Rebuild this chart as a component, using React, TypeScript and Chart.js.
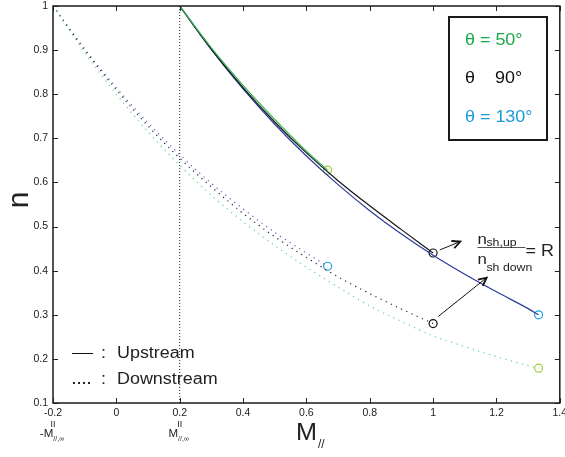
import React, { useEffect, useRef } from 'react';
import { Chart, registerables } from 'chart.js';

Chart.register(...registerables);

const FONT = "'Liberation Sans', Arial, Helvetica, sans-serif";

// axis ticks
const xTickValues = [-0.2, 0, 0.2, 0.4, 0.6, 0.8, 1, 1.2, 1.4];
const yTickValues = [0.1, 0.2, 0.3, 0.4, 0.5, 0.6, 0.7, 0.8, 0.9, 1];

// Upstream (solid) curves
const upMach50 = [0.2, 0.3, 0.4, 0.5, 0.6, 0.667];
const upN50 = [1, 0.905, 0.82, 0.743, 0.671, 0.628];
const upMach90 = [0.2, 0.3, 0.4, 0.5, 0.6, 0.7, 0.8, 0.9, 1.0];
const upN90 = [1, 0.902, 0.815, 0.737, 0.667, 0.604, 0.547, 0.493, 0.44];
const upMach130 = [0.2, 0.3, 0.4, 0.5, 0.6, 0.7, 0.8, 0.9, 1.0, 1.1, 1.2, 1.3, 1.333];
const upN130 = [1, 0.901, 0.812, 0.732, 0.66, 0.595, 0.536, 0.483, 0.435, 0.392, 0.352, 0.314, 0.3];

// Downstream (dotted) curves
const downMach50 = [-0.2, -0.1, 0, 0.1, 0.2, 0.3, 0.4, 0.5, 0.6, 0.7, 0.8, 0.9, 1.0, 1.1, 1.2, 1.3, 1.333];
const downN50 = [1, 0.894, 0.8, 0.715, 0.639, 0.571, 0.511, 0.457, 0.408, 0.363, 0.32, 0.285, 0.252, 0.228, 0.205, 0.185, 0.179];
const downMach90 = [-0.2, -0.1, 0, 0.1, 0.2, 0.3, 0.4, 0.5, 0.6, 0.7, 0.8, 0.9, 1.0];
const downN90 = [1, 0.9, 0.81, 0.728, 0.655, 0.59, 0.53, 0.477, 0.43, 0.386, 0.348, 0.313, 0.28];
const downMach130 = [-0.2, -0.1, 0, 0.1, 0.2, 0.3, 0.4, 0.5, 0.6, 0.667];
const downN130 = [1, 0.903, 0.815, 0.735, 0.663, 0.598, 0.54, 0.487, 0.44, 0.41];

// reference line M = M//,inf
const refLineMach = [0.2, 0.2];
const refLineN = [0.1, 1];

// annotation arrows (data coordinates: [M, n])
const arrowUpTail = [1.021, 0.447];
const arrowUpHead = [1.086, 0.466];
const arrowDownTail = [1.016, 0.296];
const arrowDownHead = [1.169, 0.384];
const fractionAnchor = [1.14, 0.453];

const legendLabels = ['θ = 50°', 'θ', '90°', 'θ = 130°'];

const C_GREEN = '#2fb24c';
const C_BLACK = '#151515';
const C_BLUE = '#2b3a9e';
const C_GREEN_DOT = '#5cd49a';
const C_BLUE_DOT = '#5b5bd0';
const C_GREEN_CIRCLE = '#a2cd3a';
const C_BLUE_CIRCLE = '#1ba0e2';
const C_GREEN_TEXT = '#1aa84a';
const C_BLUE_TEXT = '#1c9bd8';

const pts = (xs: number[], ys: number[]) => xs.map((x, i) => ({ x, y: ys[i] }));
const last = (xs: number[], ys: number[]) => [{ x: xs[xs.length - 1], y: ys[ys.length - 1] }];
const fmt = (v: number) => String(Number(Number(v).toFixed(1)));

const SX = 1.12;
function txt(ctx: CanvasRenderingContext2D, s: string, x: number, y: number, size: number, color: string, align: CanvasTextAlign = 'left', sx = SX) {
  ctx.save();
  ctx.font = `${size}px ${FONT}`;
  ctx.fillStyle = color;
  ctx.textBaseline = 'alphabetic';
  ctx.textAlign = align;
  ctx.translate(x, y);
  ctx.scale(sx, 1);
  ctx.fillText(s, 0, 0);
  ctx.restore();
}
function txtWidth(ctx: CanvasRenderingContext2D, s: string, size: number, sx = SX) {
  ctx.save();
  ctx.font = `${size}px ${FONT}`;
  const w = ctx.measureText(s).width * sx;
  ctx.restore();
  return w;
}
function line(ctx: CanvasRenderingContext2D, x1: number, y1: number, x2: number, y2: number) {
  ctx.beginPath();
  ctx.moveTo(x1, y1);
  ctx.lineTo(x2, y2);
  ctx.stroke();
}
function arrow(ctx: CanvasRenderingContext2D, x1: number, y1: number, x2: number, y2: number) {
  ctx.strokeStyle = '#111';
  ctx.lineWidth = 1;
  line(ctx, x1, y1, x2, y2);
  const a = Math.atan2(y2 - y1, x2 - x1);
  const L = 9;
  ctx.lineWidth = 1.8;
  ctx.beginPath();
  ctx.moveTo(x2 - L * Math.cos(a - 0.45), y2 - L * Math.sin(a - 0.45));
  ctx.lineTo(x2, y2);
  ctx.lineTo(x2 - L * Math.cos(a + 0.45), y2 - L * Math.sin(a + 0.45));
  ctx.stroke();
}

const annotPlugin = {
  id: 'annot',
  afterDatasetsDraw(chart: any) {
    const { ctx, chartArea, scales } = chart;
    const { left, right, top, bottom } = chartArea;
    const xs = scales.x;
    const ys = scales.y;
    ctx.save();

    // frame
    ctx.strokeStyle = '#1a1a1a';
    ctx.lineWidth = 1.5;
    ctx.strokeRect(left, top, right - left, bottom - top);

    // inward ticks on all sides
    ctx.lineWidth = 1;
    ctx.strokeStyle = '#222';
    xTickValues.forEach((v) => {
      const px = Math.round(xs.getPixelForValue(v)) + 0.5;
      line(ctx, px, bottom, px, bottom - 5);
      line(ctx, px, top, px, top + 5);
    });
    yTickValues.forEach((v) => {
      const py = Math.round(ys.getPixelForValue(v)) + 0.5;
      line(ctx, left, py, left + 5, py);
      line(ctx, right, py, right - 5, py);
    });

    // special tick sub-labels: -M//,inf and M//,inf
    [-0.2, 0.2].forEach((v) => {
      const px = xs.getPixelForValue(v);
      txt(ctx, 'II', px, 427, 9, '#222', 'center', 1);
      const main = v < 0 ? '-M' : 'M';
      const wMain = txtWidth(ctx, main, 11, 1.05);
      const wSub = txtWidth(ctx, '//,∞', 7, 1);
      const x0 = px - (wMain + wSub) / 2 - 1;
      txt(ctx, main, x0, 437, 11, '#222', 'left', 1.05);
      txt(ctx, '//,∞', x0 + wMain, 441, 7, '#222', 'left', 1);
    });

    // axis titles
    ctx.save();
    ctx.translate(28, 200);
    ctx.rotate(-Math.PI / 2);
    ctx.font = `30px ${FONT}`;
    ctx.fillStyle = '#222';
    ctx.textAlign = 'center';
    ctx.textBaseline = 'alphabetic';
    ctx.fillText('n', 0, 0);
    ctx.restore();
    txt(ctx, 'M', 296, 440, 24, '#222', 'left', 1.05);
    txt(ctx, '//', 318, 448, 12, '#222', 'left', 1);

    // legend box (top right)
    ctx.strokeStyle = '#1a1a1a';
    ctx.lineWidth = 2;
    ctx.strokeRect(449, 17, 98, 123);
    txt(ctx, legendLabels[0], 465, 45, 16, C_GREEN_TEXT);
    txt(ctx, legendLabels[1], 465, 83, 16, '#111');
    txt(ctx, legendLabels[2], 495, 83, 16, '#111');
    txt(ctx, legendLabels[3], 465, 122, 16, C_BLUE_TEXT);

    // line-style legend (bottom left)
    ctx.strokeStyle = '#111';
    ctx.lineWidth = 1;
    line(ctx, 72, 353.5, 93, 353.5);
    txt(ctx, ':', 101, 358, 16, '#222');
    txt(ctx, 'Upstream', 117, 358, 16, '#222');
    ctx.fillStyle = '#222';
    [73, 78, 83, 88].forEach((dx) => ctx.fillRect(dx, 382, 2, 2));
    txt(ctx, ':', 101, 384, 16, '#222');
    txt(ctx, 'Downstream', 117, 384, 16, '#222');

    // arrows
    arrow(ctx, xs.getPixelForValue(arrowUpTail[0]), ys.getPixelForValue(arrowUpTail[1]),
      xs.getPixelForValue(arrowUpHead[0]), ys.getPixelForValue(arrowUpHead[1]));
    arrow(ctx, xs.getPixelForValue(arrowDownTail[0]), ys.getPixelForValue(arrowDownTail[1]),
      xs.getPixelForValue(arrowDownHead[0]), ys.getPixelForValue(arrowDownHead[1]));

    // fraction n_sh,up / n_sh down = R
    const fx = xs.getPixelForValue(fractionAnchor[0]);
    const fy = Math.round(ys.getPixelForValue(fractionAnchor[1])) + 0.5;
    ctx.strokeStyle = '#555';
    ctx.lineWidth = 1;
    line(ctx, fx, fy, fx + 48, fy);
    txt(ctx, 'n', fx, fy - 4, 15, '#222');
    txt(ctx, 'sh,up', fx + 9, fy - 2, 11, '#222');
    txt(ctx, 'n', fx, fy + 16, 15, '#222');
    txt(ctx, 'sh down', fx + 9, fy + 23, 11, '#222');
    txt(ctx, '= R', fx + 48, fy + 8, 16, '#222');

    ctx.restore();
  },
};

export default function App() {
  const ref = useRef<HTMLCanvasElement | null>(null);
  useEffect(() => {
    const canvas = ref.current;
    if (!canvas) return;
    const dotted = (color: string) => ({
      showLine: true, borderColor: color, borderWidth: 1.2, borderDash: [1.2, 4.5], pointRadius: 0,
      cubicInterpolationMode: 'monotone' as const,
    });
    const solid = (color: string) => ({
      showLine: true, borderColor: color, borderWidth: 1.2, pointRadius: 0,
      cubicInterpolationMode: 'monotone' as const,
    });
    const circle = (color: string) => ({
      showLine: false, pointRadius: 4, pointBorderWidth: 1.2, pointBorderColor: color,
      pointBackgroundColor: 'rgba(0,0,0,0)', borderColor: color,
    });
    const chart = new Chart(canvas, {
      type: 'scatter',
      data: {
        datasets: [
          { label: 'down50', data: pts(downMach50, downN50), ...dotted(C_GREEN_DOT) },
          { label: 'down90', data: pts(downMach90, downN90), ...dotted('#222') },
          { label: 'down130', data: pts(downMach130, downN130), ...dotted(C_BLUE_DOT) },
          { label: 'ref', data: pts(refLineMach, refLineN), showLine: true, borderColor: '#222', borderWidth: 1, borderDash: [1, 2], pointRadius: 0 },
          { label: 'up50', data: pts(upMach50, upN50), ...solid(C_GREEN) },
          { label: 'up90', data: pts(upMach90, upN90), ...solid(C_BLACK) },
          { label: 'up130', data: pts(upMach130, upN130), ...solid(C_BLUE) },
          { label: 'c1', data: last(upMach50, upN50), ...circle(C_GREEN_CIRCLE) },
          { label: 'c2', data: last(upMach90, upN90), ...circle('#111') },
          { label: 'c3', data: last(upMach130, upN130), ...circle(C_BLUE_CIRCLE) },
          { label: 'c4', data: last(downMach50, downN50), ...circle(C_GREEN_CIRCLE) },
          { label: 'c5', data: last(downMach90, downN90), ...circle('#111') },
          { label: 'c6', data: last(downMach130, downN130), ...circle(C_BLUE_CIRCLE) },
        ] as any,
      },
      options: {
        animation: false,
        responsive: false,
        maintainAspectRatio: false,
        events: [],
        layout: { padding: { top: 6, right: 5, left: 0, bottom: 0 } },
        plugins: { legend: { display: false }, tooltip: { enabled: false } },
        scales: {
          x: {
            type: 'linear', min: -0.2, max: 1.4,
            afterBuildTicks: (s: any) => { s.ticks = xTickValues.map((value) => ({ value })); },
            ticks: { callback: (v: any) => fmt(v), font: { family: FONT, size: 10.5 }, color: '#222', padding: 4, maxRotation: 0, autoSkip: false },
            grid: { display: false, drawTicks: false },
            border: { display: false },
            afterFit: (s: any) => { s.height = 54; s.paddingLeft = 0; s.paddingRight = 0; },
          },
          y: {
            type: 'linear', min: 0.1, max: 1,
            afterBuildTicks: (s: any) => { s.ticks = yTickValues.map((value) => ({ value })); },
            ticks: { callback: (v: any) => fmt(v), font: { family: FONT, size: 10.5 }, color: '#222', padding: 5, autoSkip: false },
            grid: { display: false, drawTicks: false },
            border: { display: false },
            afterFit: (s: any) => { s.width = 53; s.paddingTop = 0; s.paddingBottom = 0; },
          },
        },
      } as any,
      plugins: [annotPlugin],
    });
    return () => chart.destroy();
  }, []);
  return (
    <div style={{ position: 'fixed', left: 0, top: 0, width: 565, height: 457, background: '#fff' }}>
      <canvas ref={ref} width={565} height={457} style={{ width: 565, height: 457, display: 'block' }} />
    </div>
  );
}
